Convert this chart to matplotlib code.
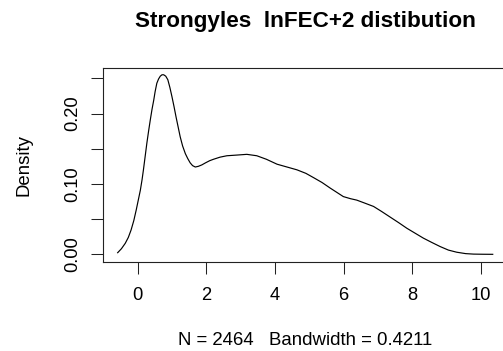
import numpy as np
import matplotlib
matplotlib.use("Agg")
import matplotlib.pyplot as plt

# density curve (x, density)
dens_x = [-0.58, -0.47, -0.36, -0.27, -0.19, -0.11, -0.04, 0.02, 0.08, 0.13, 0.17, 0.22,
          0.27, 0.32, 0.37, 0.42, 0.47, 0.51, 0.56, 0.61, 0.66, 0.71, 0.76, 0.82,
          0.88, 0.94, 1.00, 1.06, 1.12, 1.18, 1.24, 1.31, 1.39, 1.46, 1.53, 1.60,
          1.68, 1.77, 1.87, 1.98, 2.10, 2.21, 2.40, 2.60, 2.90, 3.18, 3.47, 3.75,
          4.06, 4.35, 4.64, 4.90, 5.12, 5.37, 5.61, 5.80, 5.99, 6.20, 6.38, 6.60,
          6.87, 7.10, 7.35, 7.60, 7.84, 8.08, 8.32, 8.56, 8.81, 9.05, 9.29, 9.55,
          9.78, 10.05, 10.34]
dens_y = [0.0023, 0.008, 0.0156, 0.024, 0.0345, 0.048, 0.063, 0.077, 0.091, 0.106, 0.120, 0.139,
          0.158, 0.175, 0.191, 0.206, 0.219, 0.231, 0.243, 0.249, 0.253, 0.255, 0.255, 0.253,
          0.248, 0.237, 0.224, 0.210, 0.195, 0.181, 0.167, 0.154, 0.143, 0.136, 0.130, 0.126,
          0.124, 0.125, 0.127, 0.130, 0.133, 0.135, 0.138, 0.140, 0.141, 0.142, 0.140, 0.135,
          0.128, 0.124, 0.120, 0.115, 0.109, 0.102, 0.094, 0.088, 0.082, 0.079, 0.077, 0.073,
          0.068, 0.061, 0.053, 0.045, 0.037, 0.030, 0.023, 0.017, 0.011, 0.006, 0.003, 0.001,
          0.0003, 0.0001, 0.0]

x_ticks = [0, 2, 4, 6, 8, 10]
y_ticks = [0.00, 0.05, 0.10, 0.15, 0.20, 0.25]
y_tick_labels = ["0.00", "", "0.10", "", "0.20", ""]

title = "Strongyles  lnFEC+2 distibution"
sub = "N = 2464   Bandwidth = 0.4211"

plt.rcParams["font.family"] = ["Liberation Sans", "DejaVu Sans"]

W, H = 503, 351
fig = plt.figure(figsize=(W / 100, H / 100), dpi=100)
# plot box runs past the right edge of the picture, as in the reference
ax = fig.add_axes([102.7 / W, 1 - 261.5 / H, (507.5 - 102.7) / W, (261.5 - 67.6) / H])
ax.plot(dens_x, dens_y, color="black", lw=0.85)
ax.set_xlim(-1.016, 10.77)
ax.set_ylim(-0.0102, 0.2652)

ax.set_xticks(x_ticks)
ax.set_xticklabels([str(t) for t in x_ticks])
ax.set_yticks(y_ticks)
ax.set_yticklabels(y_tick_labels, rotation=90, va="center")
ax.tick_params(axis="both", direction="out", length=8.6, width=0.75, labelsize=13.2,
               color="#222222")
ax.tick_params(axis="x", pad=9.4)
ax.tick_params(axis="y", pad=7.2)
for s in ax.spines.values():
    s.set_linewidth(0.8)
    s.set_color("#222222")

fig.text(305 / W, 1 - 21.5 / H, title, ha="center", va="center",
         fontsize=16.2, fontweight="bold")
fig.text(305 / W, 1 - 340.7 / H, sub, ha="center", va="center", fontsize=13.4)
fig.text(24.5 / W, 1 - 164.5 / H, "Density", ha="center", va="center",
         rotation=90, fontsize=13.4)

fig.savefig("out.png", dpi=100)
